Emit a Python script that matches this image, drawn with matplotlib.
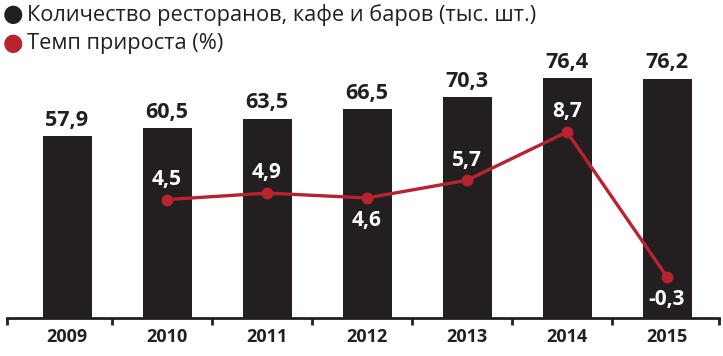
import numpy as np
import matplotlib
matplotlib.use('Agg')
import matplotlib.pyplot as plt

years = ['2009', '2010', '2011', '2012', '2013', '2014', '2015']
venues = [57.9, 60.5, 63.5, 66.5, 70.3, 76.4, 76.2]
growth_years = ['2010', '2011', '2012', '2013', '2014', '2015']
growth = [4.5, 4.9, 4.6, 5.7, 8.7, -0.3]
growth_label_side = ['above', 'above', 'below', 'above', 'above', 'below']

dark = '#231f20'
red = '#b92330'

plt.rcParams['font.family'] = ['Open Sans', 'DejaVu Sans']

fig = plt.figure(figsize=(7.23, 3.56), dpi=100)
ax = fig.add_axes([7 / 723, 38 / 356, 712 / 723, 318 / 356])
ax2 = ax.twinx()

x = np.arange(len(years))
ax.bar(x, venues, width=0.49, color=dark, zorder=2)
for xi, v in zip(x, venues):
    ax.annotate(f'{v:.1f}'.replace('.', ','), (xi, v), xytext=(0, 11.5),
                textcoords='offset points', ha='center', va='center',
                fontsize=15.5, fontweight='bold', color=dark)

gx = [years.index(y) for y in growth_years]
ax2.plot(gx, growth, color=red, lw=2.4, marker='o', ms=7.5, zorder=3)
for xi, g, side in zip(gx, growth, growth_label_side):
    dy = 14.5 if side == 'above' else -16
    ax2.annotate(f'{g:.1f}'.replace('.', ','), (xi, g), xytext=(0, dy),
                 textcoords='offset points', ha='center', va='center',
                 fontsize=15, fontweight='bold', color='white')

ax.set_xlim(-0.6, 6.52)
ax.set_ylim(0, 101.3)
ax2.set_ylim(-2.86, 16.9)

for a in (ax, ax2):
    for s in ('top', 'right', 'left'):
        a.spines[s].set_visible(False)
    a.set_yticks([])
ax2.spines['bottom'].set_visible(False)
ax.spines['bottom'].set_color(dark)
ax.spines['bottom'].set_linewidth(2)

ax.set_xticks(x)
ax.set_xticklabels(years, fontsize=13, fontweight='bold', color=dark)
ax.tick_params(axis='x', which='major', length=0, pad=7)
bounds = [-0.6] + [i + 0.45 for i in range(6)] + [6.52]
ax.set_xticks(bounds, minor=True)
ax.tick_params(axis='x', which='minor', length=5, width=2, color=dark)

# legend
fig.text(13 / 723, 1 - 15 / 356, '\u25cf', color=dark, fontsize=17, ha='center', va='center')
fig.text(27 / 723, 1 - 15 / 356, 'Количество ресторанов, кафе и баров (тыс. шт.)',
         color=dark, fontsize=15.7, ha='left', va='center')
fig.text(13 / 723, 1 - 44 / 356, '\u25cf', color=red, fontsize=17, ha='center', va='center')
fig.text(27 / 723, 1 - 44 / 356, 'Темп прироста (%)',
         color=dark, fontsize=15.7, ha='left', va='center')

fig.savefig('out.png', dpi=100)
